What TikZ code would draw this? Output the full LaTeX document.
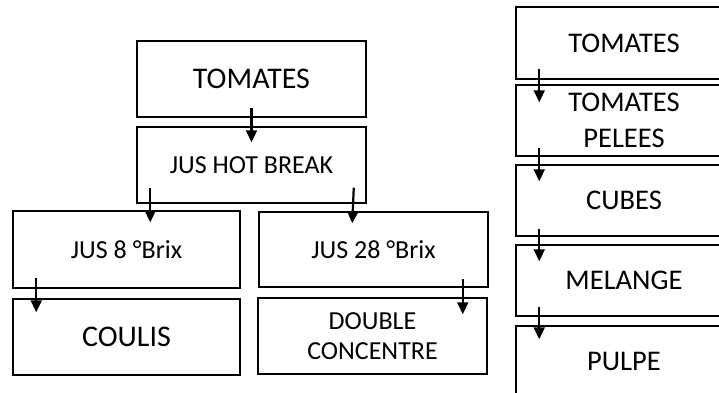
\documentclass[tikz,border=0pt]{standalone}
\usepackage{fontspec}
\setmainfont{Carlito}
\usetikzlibrary{arrows.meta}

\tikzset{
  stage/.style={draw,line width=1.5pt,rectangle,align=center,inner sep=0pt},
  big/.style={font=\fontsize{30}{34}\selectfont},
  mid/.style={font=\fontsize{26}{30}\selectfont},
  col/.style={font=\fontsize{28.5}{36}\selectfont},
  flow/.style={line width=2.2pt,-{Triangle[width=11pt,length=12pt]}}
}

\begin{document}
\begin{tikzpicture}[x=1pt,y=-1pt]
\useasboundingbox (0,0) rectangle (719,392);

% juice line
\node [stage,big,minimum width=229,minimum height=76] (tomA)      at (251.5, 79)   {TOMATES};
\node [stage,mid,minimum width=229,minimum height=76] (hotbreak)  at (251.5,165)   {JUS HOT BREAK};
\node [stage,mid,minimum width=227,minimum height=77] (jus8)      at (126.5,249.5) {JUS 8 °Brix};
\node [stage,big,minimum width=227,minimum height=76] (coulis)    at (126.5,337)   {COULIS};
\node [stage,mid,minimum width=229,minimum height=75] (jus28)     at (373.5,249.5) {JUS 28 °Brix};
\node [stage,mid,minimum width=229,minimum height=76] (double)    at (372.5,336)   {DOUBLE\\CONCENTRE};

% pulp line
\node [stage,col,minimum width=216,minimum height=72] (tomB)      at (624, 43)     {TOMATES};
\node [stage,col,minimum width=216,minimum height=71] (pelees)    at (624,120.5)   {TOMATES\\PELEES};
\node [stage,col,minimum width=216,minimum height=71] (cubes)     at (624,200.5)   {CUBES};
\node [stage,col,minimum width=216,minimum height=71] (melange)   at (624,280.5)   {MELANGE};
\node [stage,col,minimum width=216,minimum height=71] (pulpe)     at (624,361.5)   {PULPE};

\draw [flow] ([yshift=10]tomA.south)                     -- ([yshift=-16]hotbreak.north);
\draw [flow] ([xshift=14,yshift=16]hotbreak.south west)  -- ([xshift=138,yshift=-12]jus8.north west);
\draw [flow] ([xshift=-13,yshift=16]hotbreak.south east) -- ([xshift=94,yshift=-12]jus28.north west);
\draw [flow] ([xshift=24,yshift=11]jus8.south west)      -- ([xshift=24,yshift=-14]coulis.north west);
\draw [flow] ([xshift=-26,yshift=9]jus28.south east)     -- ([xshift=-25,yshift=-17]double.north east);

\draw [flow] ([xshift=24,yshift=11]tomB.south west)    -- ([xshift=24,yshift=-18]pelees.north west);
\draw [flow] ([xshift=24,yshift=9]pelees.south west)   -- ([xshift=24,yshift=-17]cubes.north west);
\draw [flow] ([xshift=24,yshift=8]cubes.south west)    -- ([xshift=24,yshift=-17]melange.north west);
\draw [flow] ([xshift=24,yshift=10]melange.south west) -- ([xshift=24,yshift=-14]pulpe.north west);
\end{tikzpicture}
\end{document}
